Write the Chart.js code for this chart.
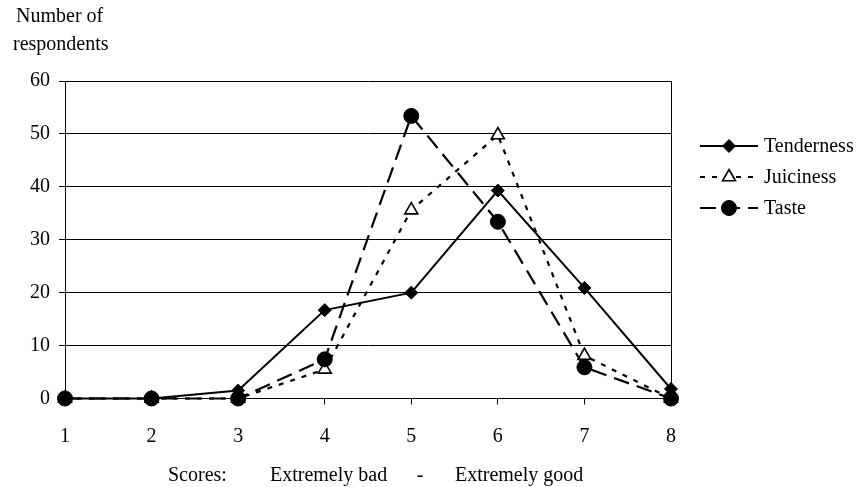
<!DOCTYPE html>
<html>
<head>
<meta charset="utf-8">
<script src="https://cdn.jsdelivr.net/npm/chart.js@4.4.1/dist/chart.umd.min.js"></script>
<style>
  html, body { margin: 0; padding: 0; background: #fff; }
  #wrap { width: 857px; height: 487px; }
</style>
</head>
<body>
<div id="wrap"><canvas id="scoreChart" width="857" height="487"></canvas></div>
<script>
// Scores 1..8 and number of respondents per attribute
var scores = ['1', '2', '3', '4', '5', '6', '7', '8'];
var tenderness = [0, 0, 1.5, 16.7, 20, 39.3, 20.9, 1.8];
var juiciness = [0, 0, 0, 5.5, 35.6, 49.8, 8.1, 0];
var taste = [0, 0, 0, 7.4, 53.4, 33.4, 5.9, 0];
var yTicks = [0, 10, 20, 30, 40, 50, 60];

var FONT = '"Liberation Serif", "Times New Roman", serif';

// legend + axis titles drawn by hand, like the original Excel chart
var extraText = {
    id: 'extraText',
    afterDraw: function (chart) {
        var ctx = chart.ctx;
        ctx.save();
        ctx.fillStyle = '#000';
        ctx.font = '20px ' + FONT;
        ctx.textBaseline = 'alphabetic';
        ctx.textAlign = 'left';
        ctx.fillText('Number of', 16, 22);
        ctx.fillText('respondents', 13, 50);

        ctx.fillText('Scores:', 168, 481);
        ctx.fillText('Extremely bad', 270, 481);
        ctx.textAlign = 'center';
        ctx.fillText('-', 420, 481);
        ctx.textAlign = 'left';
        ctx.fillText('Extremely good', 455, 481);

        // legend
        var rowY = [146, 177, 208];
        chart.data.datasets.forEach(function (ds, i) {
            var y = rowY[i];
            ctx.strokeStyle = '#000';
            ctx.lineWidth = ds.borderWidth;
            ctx.setLineDash(ds.borderDash || []);
            ctx.beginPath();
            ctx.moveTo(700, y);
            ctx.lineTo(758, y);
            ctx.stroke();
            ctx.setLineDash([]);
            ctx.fillStyle = ds.pointBackgroundColor;
            ctx.strokeStyle = '#000';
            ctx.lineWidth = ds.pointBorderWidth;
            Chart.helpers.drawPoint(ctx, {
                pointStyle: ds.pointStyle,
                radius: ds.pointRadius,
                rotation: 0,
                borderWidth: ds.pointBorderWidth
            }, 729, y);
            ctx.fillStyle = '#000';
            ctx.textBaseline = 'middle';
            ctx.font = '20px ' + FONT;
            ctx.fillText(ds.label, 764, y + 1);
        });
        ctx.restore();
    }
};

var ctx = document.getElementById('scoreChart').getContext('2d');
var scoreChart = new Chart(ctx, {
    type: 'line',
    data: {
        labels: scores,
        datasets: [
            {
                label: 'Tenderness',
                data: tenderness,
                borderColor: '#000',
                borderWidth: 2,
                pointStyle: 'rectRot',
                pointRadius: 6.5,
                pointBackgroundColor: '#000',
                pointBorderColor: '#000',
                pointBorderWidth: 1,
                tension: 0,
                clip: false,
                order: 3
            },
            {
                label: 'Juiciness',
                data: juiciness,
                borderColor: '#000',
                borderWidth: 2.2,
                borderDash: [5, 7],
                pointStyle: 'triangle',
                pointRadius: 7.5,
                pointBackgroundColor: '#fff',
                pointBorderColor: '#000',
                pointBorderWidth: 1.6,
                tension: 0,
                clip: false,
                order: 2
            },
            {
                label: 'Taste',
                data: taste,
                borderColor: '#000',
                borderWidth: 2.2,
                borderDash: [16, 8],
                pointStyle: 'circle',
                pointRadius: 7.5,
                pointBackgroundColor: '#000',
                pointBorderColor: '#000',
                pointBorderWidth: 1,
                tension: 0,
                clip: false,
                order: 1
            }
        ]
    },
    options: {
        responsive: false,
        devicePixelRatio: 1,
        animation: false,
        layout: {
            padding: { left: 0, right: 186, top: 81, bottom: 0 }
        },
        plugins: {
            legend: { display: false },
            tooltip: { enabled: false }
        },
        scales: {
            x: {
                type: 'category',
                offset: false,
                afterFit: function (s) { s.height = 88.5; },
                grid: {
                    color: function (c) { return c.index === scores.length - 1 ? '#000' : 'rgba(0,0,0,0)'; },
                    tickColor: '#000',
                    tickLength: 6,
                    lineWidth: 1
                },
                border: { display: true, color: '#000', width: 1 },
                ticks: {
                    color: '#000',
                    font: { family: FONT, size: 20 },
                    padding: 20,
                    maxRotation: 0
                }
            },
            y: {
                min: 0,
                max: 60,
                afterFit: function (s) { s.width = 65; },
                afterBuildTicks: function (s) {
                    s.ticks = yTicks.map(function (v) { return { value: v }; });
                },
                grid: {
                    color: '#000',
                    tickColor: '#000',
                    tickLength: 6,
                    lineWidth: 1
                },
                border: { display: true, color: '#000', width: 1 },
                ticks: {
                    color: '#000',
                    font: { family: FONT, size: 20 },
                    padding: 9
                }
            }
        }
    },
    plugins: [extraText]
});
</script>
</body>
</html>
